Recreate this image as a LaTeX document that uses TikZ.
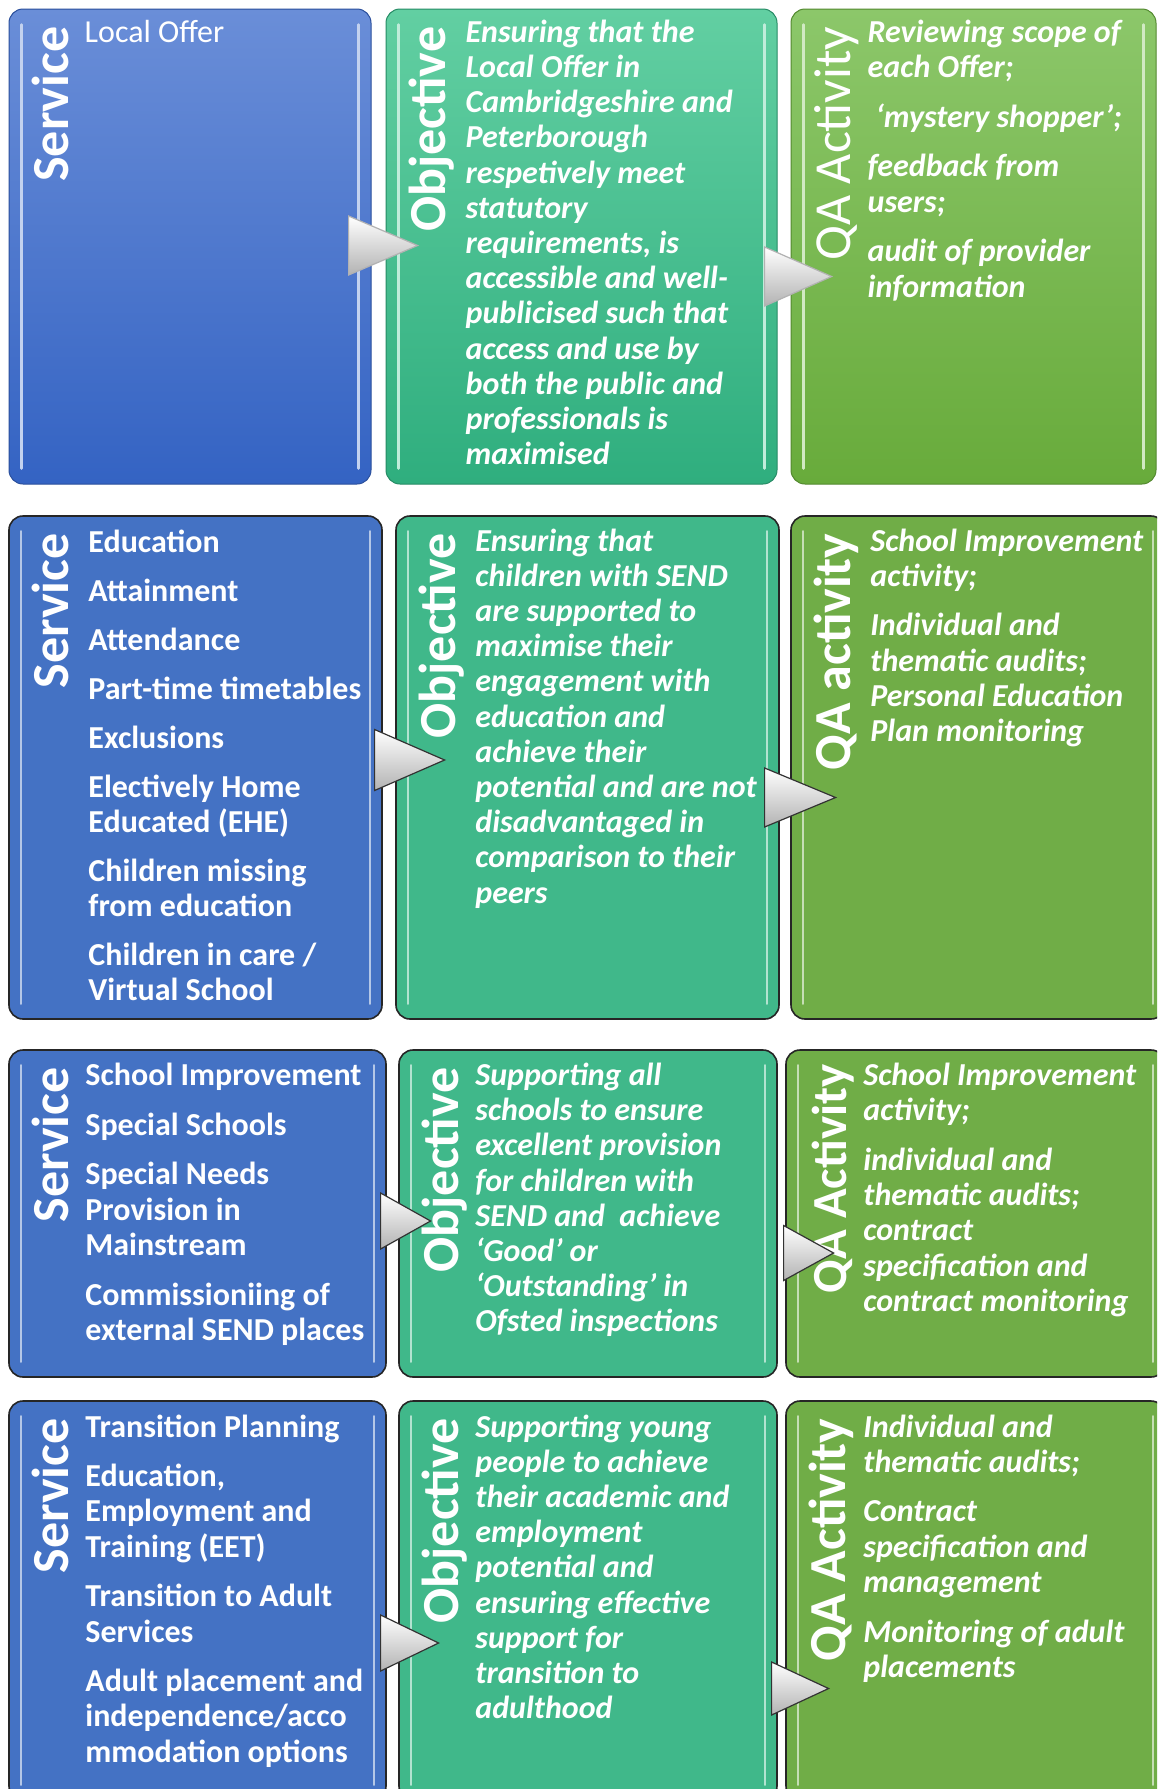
\documentclass[tikz,border=0pt]{standalone}
\usepackage{fontspec}
\setmainfont{Carlito}
\usepackage{tikz}
\usetikzlibrary{positioning,calc,fit,shapes.geometric}
\definecolor{svcblue}{HTML}{4472C4}
\definecolor{objgreen}{HTML}{40B88A}
\definecolor{qagreen}{HTML}{70AD47}
\definecolor{svctop}{HTML}{6A8ED8}
\definecolor{svcbot}{HTML}{3463C3}
\definecolor{objtop}{HTML}{62CFA2}
\definecolor{objbot}{HTML}{2FAE7E}
\definecolor{qatop}{HTML}{8CC76A}
\definecolor{qabot}{HTML}{68AB3B}
\tikzset{
  rowbox/.style={rounded corners=14pt, inner sep=0pt, line width=1.6pt, draw=black!85},
  softbox/.style={rounded corners=14pt, inner sep=0pt, line width=1pt},
  boxhead/.style={rotate=90, anchor=base east, text=white, inner sep=0pt,
    font=\fontsize{52}{56}\selectfont\bfseries},
  boxheadlight/.style={boxhead, font=\fontsize{52}{56}\selectfont},
  svctext/.style={anchor=north west, align=left, text=white, inner sep=0pt,
    font=\fontsize{32}{35.2}\selectfont\bfseries},
  svctextlight/.style={svctext, font=\fontsize{32}{35.2}\selectfont},
  objtext/.style={svctext, font=\fontsize{32}{35.2}\selectfont\bfseries\itshape},
  flowtri/.style={isosceles triangle, isosceles triangle stretches, anchor=lower side,
    inner sep=0pt, draw=black!80, line width=1.2pt, top color=white, bottom color=black!30},
  glint/.style={line width=2.5pt, line cap=round},
}

\begin{document}
\begin{tikzpicture}[x=1pt, y=-1pt]
  \clip (0,0) rectangle (1157,1789);
  \fill[white] (0,0) rectangle (1157,1789);

  % row 1: local offer
  \node[softbox, fit={(9,9) (371,484)}, top color=svctop, bottom color=svcbot, draw=svcbot!80!black] (svc1) {};
  \node[softbox, fit={(386,9) (777,484)}, top color=objtop, bottom color=objbot, draw=objbot!80!black] (obj1) {};
  \node[softbox, fit={(791,9) (1156,484)}, top color=qatop, bottom color=qabot, draw=qabot!80!black] (qa1) {};

  % row 2: education
  \node[rowbox, fit={(9,516) (382,1019)}, fill=svcblue] (svc2) {};
  \node[rowbox, fit={(396,516) (779,1019)}, fill=objgreen] (obj2) {};
  \node[rowbox, fit={(791,516) (1165,1019)}, fill=qagreen] (qa2) {};

  % row 3: schools
  \node[rowbox, fit={(9,1050) (386,1377)}, fill=svcblue] (svc3) {};
  \node[rowbox, fit={(399,1050) (777,1377)}, fill=objgreen] (obj3) {};
  \node[rowbox, fit={(786,1050) (1165,1377)}, fill=qagreen] (qa3) {};

  % row 4: transition
  \node[rowbox, fit={(9,1401) (386,1800)}, fill=svcblue] (svc4) {};
  \node[rowbox, fit={(399,1401) (777,1800)}, fill=objgreen] (obj4) {};
  \node[rowbox, fit={(786,1401) (1165,1800)}, fill=qagreen] (qa4) {};

  % pale edge highlights
  \foreach \b/\c in {svc1/svctop, obj1/objtop, qa1/qatop, svc2/svcblue, obj2/objgreen, qa2/qagreen,
                     svc3/svcblue, obj3/objgreen, qa3/qagreen, svc4/svcblue, obj4/objgreen, qa4/qagreen} {
    \draw[glint, \c!40!white] ($(\b.north west)+(13,16)$) -- ($(\b.south west)+(13,-16)$);
    \draw[glint, \c!40!white] ($(\b.north east)+(-13,16)$) -- ($(\b.south east)+(-13,-16)$);
  }

  % headings
  \foreach \b/\t in {svc1/Service, obj1/Objective, svc2/Service, obj2/Objective, qa2/QA activity,
                     svc3/Service, obj3/Objective, svc4/Service, obj4/Objective, qa4/QA Activity}
    \node[boxhead] at ($(\b.north west)+(60,18)$) {\t};
  \node[boxheadlight] (qa1head) at ($(qa1.north west)+(60,18)$) {QA Activity};
  \node[boxhead, font=\fontsize{49}{52}\selectfont\bfseries] (qa3head) at ($(qa3.north west)+(61,15)$) {QA Activity};

  % texts
  \node[svctextlight] (svc1text) at ($(svc1.north west)+(76,9)$) {\strut Local Offer};
  \node[objtext] (obj1text) at ($(obj1.north west)+(80,9)$) {\strut Ensuring that the\\ Local Offer in\\ Cambridgeshire and\\ Peterborough\\ respetively meet\\ statutory\\ requirements, is\\ accessible and well-\\ publicised such that\\ access and use by\\ both the public and\\ professionals is\\ maximised};
  \node[objtext] (qa1text) at ($(qa1.north west)+(77,9)$) {\strut Reviewing scope of\\ each Offer;\\[14.5pt] \hspace{8pt}‘mystery shopper’;\\[14.5pt] feedback from\\ users;\\[14.5pt] audit of provider\\ information};

  \node[svctext] (svc2text) at ($(svc2.north west)+(80,12)$) {\strut Education\\[13.8pt] Attainment\\[13.8pt] Attendance\\[13.8pt] Part-time timetables\\[13.8pt] Exclusions\\[13.8pt] Electively Home\\ Educated (EHE)\\[13.8pt] Children missing\\ from education\\[13.8pt] Children in care /\\ Virtual School};
  \node[objtext] (obj2text) at ($(obj2.north west)+(80,11)$) {\strut Ensuring that\\ children with SEND\\ are supported to\\ maximise their\\ engagement with\\ education and\\ achieve their\\ potential and are not\\ disadvantaged in\\ comparison to their\\ peers};
  \node[objtext] (qa2text) at ($(qa2.north west)+(80,11)$) {\strut School Improvement\\ activity;\\[14.5pt] Individual and\\ thematic audits;\\ Personal Education\\ Plan monitoring};

  \node[svctext] (svc3text) at ($(svc3.north west)+(77,11.5)$) {\strut School Improvement\\[14.5pt] Special Schools\\[14.5pt] Special Needs\\ Provision in\\ Mainstream\\[14.5pt] Commissioniing of\\ external SEND places};
  \node[objtext] (obj3text) at ($(obj3.north west)+(77,11.5)$) {\strut Supporting all\\ schools to ensure\\ excellent provision\\ for children with\\ SEND and\ \ achieve\\ ‘Good’ or\\ ‘Outstanding’ in\\ Ofsted inspections};
  \node[objtext] (qa3text) at ($(qa3.north west)+(78,11.5)$) {\strut School Improvement\\ activity;\\[14.5pt] individual and\\ thematic audits;\\ contract\\ specification and\\ contract monitoring};

  \node[svctext] (svc4text) at ($(svc4.north west)+(77,12)$) {\strut Transition Planning\\[14.5pt] Education,\\ Employment and\\ Training (EET)\\[14.5pt] Transition to Adult\\ Services\\[14.5pt] Adult placement and\\ independence/acco\\ mmodation options};
  \node[objtext] (obj4text) at ($(obj4.north west)+(77,12)$) {\strut Supporting young\\ people to achieve\\ their academic and\\ employment\\ potential and\\ ensuring effective\\ support for\\ transition to\\ adulthood};
  \node[objtext] (qa4text) at ($(qa4.north west)+(78,12)$) {\strut Individual and\\ thematic audits;\\[14.5pt] Contract\\ specification and\\ management\\[14.5pt] Monitoring of adult\\ placements};

  % arrows between boxes
  \node[flowtri, draw=gray!60, minimum width=59, minimum height=69] (tri11) at (348,245.5) {};
  \node[flowtri, draw=gray!60, minimum width=59, minimum height=67] (tri12) at (764,276.5) {};
  \node[flowtri, minimum width=61, minimum height=70] (tri21) at (374,760) {};
  \node[flowtri, minimum width=59, minimum height=71] (tri22) at (764,797.5) {};
  \node[flowtri, minimum width=56, minimum height=50] (tri31) at (380,1221) {};
  \node[flowtri, minimum width=55, minimum height=50] (tri32) at (783,1253) {};
  \node[flowtri, minimum width=56, minimum height=58] (tri41) at (380,1643) {};
  \node[flowtri, minimum width=53, minimum height=57] (tri42) at (771,1688.5) {};
\end{tikzpicture}
\end{document}
